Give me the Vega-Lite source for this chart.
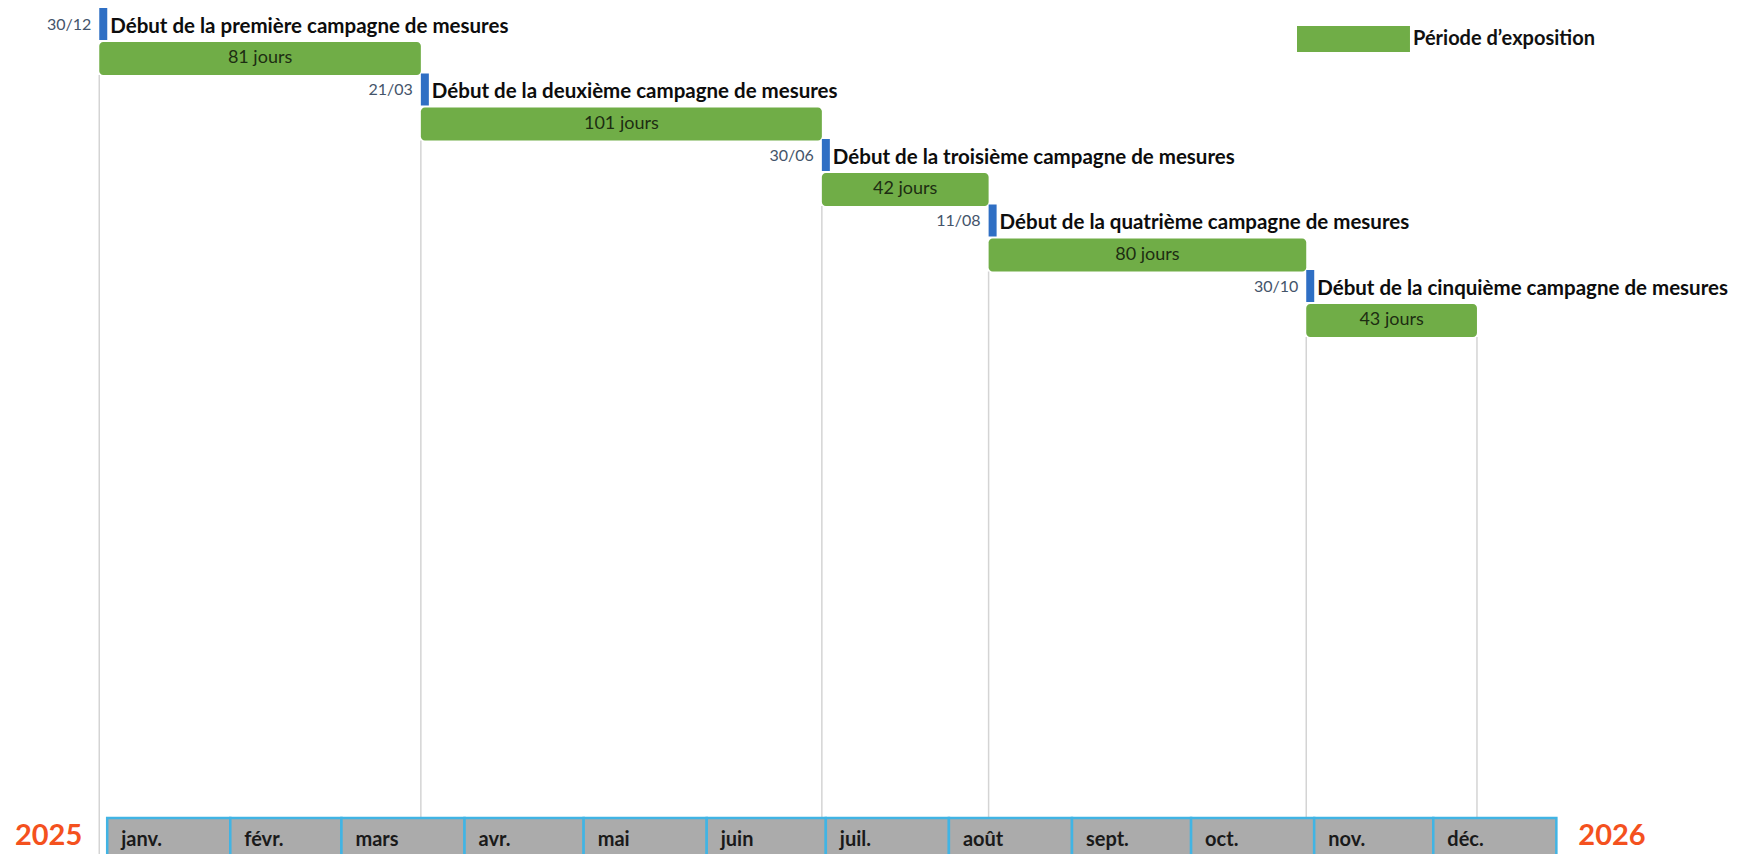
{
  "$schema": "https://vega.github.io/schema/vega-lite/v6.json",
  "width": 1739,
  "height": 854,
  "autosize": {"type": "none"},
  "padding": 0,
  "background": "white",
  "config": {"view": {"stroke": null}, "font": "Lato"},
  "datasets": {
    "campagnes": [
      {"rang": 1, "debut": "2024-12-30", "fin": "2025-03-21", "duree": "81 jours", "date": "30/12", "titre": "Début de la première campagne de mesures"},
      {"rang": 2, "debut": "2025-03-21", "fin": "2025-06-30", "duree": "101 jours", "date": "21/03", "titre": "Début de la deuxième campagne de mesures"},
      {"rang": 3, "debut": "2025-06-30", "fin": "2025-08-11", "duree": "42 jours", "date": "30/06", "titre": "Début de la troisième campagne de mesures"},
      {"rang": 4, "debut": "2025-08-11", "fin": "2025-10-30", "duree": "80 jours", "date": "11/08", "titre": "Début de la quatrième campagne de mesures"},
      {"rang": 5, "debut": "2025-10-30", "fin": "2025-12-12", "duree": "43 jours", "date": "30/10", "titre": "Début de la cinquième campagne de mesures"}
    ],
    "mois": [
      {"mois": "janv.", "debut": "2025-01-01", "fin": "2025-02-01"},
      {"mois": "févr.", "debut": "2025-02-01", "fin": "2025-03-01"},
      {"mois": "mars", "debut": "2025-03-01", "fin": "2025-04-01"},
      {"mois": "avr.", "debut": "2025-04-01", "fin": "2025-05-01"},
      {"mois": "mai", "debut": "2025-05-01", "fin": "2025-06-01"},
      {"mois": "juin", "debut": "2025-06-01", "fin": "2025-07-01"},
      {"mois": "juil.", "debut": "2025-07-01", "fin": "2025-08-01"},
      {"mois": "août", "debut": "2025-08-01", "fin": "2025-09-01"},
      {"mois": "sept.", "debut": "2025-09-01", "fin": "2025-10-01"},
      {"mois": "oct.", "debut": "2025-10-01", "fin": "2025-11-01"},
      {"mois": "nov.", "debut": "2025-11-01", "fin": "2025-12-01"},
      {"mois": "déc.", "debut": "2025-12-01", "fin": "2026-01-01"}
    ],
    "annees": [
      {"annee": "2025", "jour": "2025-01-01"},
      {"annee": "2026", "jour": "2026-01-01"}
    ]
  },
  "layer": [
    {
      "data": {"name": "campagnes"},
      "mark": {"type": "rule", "color": "#d4d4d4", "strokeWidth": 1.5, "yOffset": 51},
      "encoding": {
        "x": {"field": "debut", "type": "temporal", "axis": null,
              "scale": {"type": "utc", "domain": [{"year": 2024, "month": 12, "date": 5, "utc": true}, {"year": 2026, "month": 2, "date": 16, "utc": true}]}},
        "y": {"field": "rang", "type": "quantitative", "axis": null,
              "scale": {"domain": [0.6336, 13.672], "reverse": true, "nice": false, "zero": false}},
        "y2": {"value": "height"}
      }
    },
    {
      "data": {"name": "campagnes"},
      "transform": [{"filter": "datum.rang == 5"}],
      "mark": {"type": "rule", "color": "#d4d4d4", "strokeWidth": 1.5, "yOffset": 51},
      "encoding": {
        "x": {"field": "fin", "type": "temporal", "axis": null,
              "scale": {"type": "utc", "domain": [{"year": 2024, "month": 12, "date": 5, "utc": true}, {"year": 2026, "month": 2, "date": 16, "utc": true}]}},
        "y": {"field": "rang", "type": "quantitative", "axis": null,
              "scale": {"domain": [0.6336, 13.672], "reverse": true, "nice": false, "zero": false}},
        "y2": {"value": "height"}
      }
    },
    {
      "data": {"name": "mois"},
      "mark": {"type": "rect", "fill": "#ababab", "stroke": "#41b4e4", "strokeWidth": 2.5},
      "encoding": {
        "x": {"field": "debut", "type": "temporal", "axis": null,
              "scale": {"type": "utc", "domain": [{"year": 2024, "month": 12, "date": 5, "utc": true}, {"year": 2026, "month": 2, "date": 16, "utc": true}]}},
        "x2": {"field": "fin"},
        "y": {"value": {"expr": "height - 36"}},
        "y2": {"value": {"expr": "height + 10"}}
      }
    },
    {
      "data": {"name": "mois"},
      "mark": {"type": "text", "align": "left", "baseline": "alphabetic", "dx": 14, "fontSize": 20, "fontWeight": "bold", "color": "#1a1a1a"},
      "encoding": {
        "x": {"field": "debut", "type": "temporal", "axis": null,
              "scale": {"type": "utc", "domain": [{"year": 2024, "month": 12, "date": 5, "utc": true}, {"year": 2026, "month": 2, "date": 16, "utc": true}]}},
        "y": {"value": {"expr": "height - 8"}},
        "text": {"field": "mois"}
      }
    },
    {
      "data": {"name": "campagnes"},
      "mark": {"type": "rect", "cornerRadius": 4, "yOffset": 18, "y2Offset": 51},
      "encoding": {
        "x": {"field": "debut", "type": "temporal", "axis": null,
              "scale": {"type": "utc", "domain": [{"year": 2024, "month": 12, "date": 5, "utc": true}, {"year": 2026, "month": 2, "date": 16, "utc": true}]}},
        "x2": {"field": "fin"},
        "y": {"field": "rang", "type": "quantitative", "axis": null,
              "scale": {"domain": [0.6336, 13.672], "reverse": true, "nice": false, "zero": false}},
        "y2": {"field": "rang"},
        "color": {"datum": "Période d’exposition", "type": "nominal",
                  "scale": {"range": ["#70ad47"]},
                  "legend": {"orient": "none", "legendX": 1297, "legendY": 26, "title": null, "padding": 0,
                             "symbolType": "M-1,-1H7.69V1H-1Z", "symbolSize": 676, "symbolStrokeWidth": 0,
                             "symbolOpacity": 1, "labelOffset": 90, "labelFont": "Lato", "labelFontWeight": "bold",
                             "labelFontSize": 20, "labelColor": "#111111", "labelLimit": 400}}
      }
    },
    {
      "data": {"name": "campagnes", "format": {"parse": {"debut": "date", "fin": "date"}}},
      "transform": [
        {"fold": ["debut", "fin"], "as": ["borne", "jour"]},
        {"aggregate": [{"op": "mean", "field": "jour", "as": "milieu"}], "groupby": ["rang", "duree"]}
      ],
      "mark": {"type": "text", "baseline": "middle", "align": "center", "dy": 34.5, "fontSize": 18, "color": "#1d2d12"},
      "encoding": {
        "x": {"field": "milieu", "type": "temporal", "axis": null,
              "scale": {"type": "utc", "domain": [{"year": 2024, "month": 12, "date": 5, "utc": true}, {"year": 2026, "month": 2, "date": 16, "utc": true}]}},
        "y": {"field": "rang", "type": "quantitative", "axis": null,
              "scale": {"domain": [0.6336, 13.672], "reverse": true, "nice": false, "zero": false}},
        "text": {"field": "duree"}
      }
    },
    {
      "data": {"name": "campagnes"},
      "mark": {"type": "tick", "orient": "vertical", "thickness": 8, "size": 32, "xOffset": 4, "color": "#2f6fc4", "opacity": 1},
      "encoding": {
        "x": {"field": "debut", "type": "temporal", "axis": null,
              "scale": {"type": "utc", "domain": [{"year": 2024, "month": 12, "date": 5, "utc": true}, {"year": 2026, "month": 2, "date": 16, "utc": true}]}},
        "y": {"field": "rang", "type": "quantitative", "axis": null,
              "scale": {"domain": [0.6336, 13.672], "reverse": true, "nice": false, "zero": false}}
      }
    },
    {
      "data": {"name": "campagnes"},
      "mark": {"type": "text", "align": "right", "baseline": "middle", "dx": -8, "dy": 1, "fontSize": 16, "color": "#44546a"},
      "encoding": {
        "x": {"field": "debut", "type": "temporal", "axis": null,
              "scale": {"type": "utc", "domain": [{"year": 2024, "month": 12, "date": 5, "utc": true}, {"year": 2026, "month": 2, "date": 16, "utc": true}]}},
        "y": {"field": "rang", "type": "quantitative", "axis": null,
              "scale": {"domain": [0.6336, 13.672], "reverse": true, "nice": false, "zero": false}},
        "text": {"field": "date"}
      }
    },
    {
      "data": {"name": "campagnes"},
      "mark": {"type": "text", "align": "left", "baseline": "middle", "dx": 11, "dy": 3, "fontSize": 20.5, "fontWeight": "bold", "color": "#0d0d0d"},
      "encoding": {
        "x": {"field": "debut", "type": "temporal", "axis": null,
              "scale": {"type": "utc", "domain": [{"year": 2024, "month": 12, "date": 5, "utc": true}, {"year": 2026, "month": 2, "date": 16, "utc": true}]}},
        "y": {"field": "rang", "type": "quantitative", "axis": null,
              "scale": {"domain": [0.6336, 13.672], "reverse": true, "nice": false, "zero": false}},
        "text": {"field": "titre"}
      }
    },
    {
      "data": {"name": "annees"},
      "transform": [{"filter": "datum.annee == '2025'"}],
      "mark": {"type": "text", "align": "right", "baseline": "alphabetic", "dx": -25, "fontSize": 29, "fontWeight": "bold", "color": "#f4511e"},
      "encoding": {
        "x": {"field": "jour", "type": "temporal", "axis": null,
              "scale": {"type": "utc", "domain": [{"year": 2024, "month": 12, "date": 5, "utc": true}, {"year": 2026, "month": 2, "date": 16, "utc": true}]}},
        "y": {"value": {"expr": "height - 9"}},
        "text": {"field": "annee"}
      }
    },
    {
      "data": {"name": "annees"},
      "transform": [{"filter": "datum.annee == '2026'"}],
      "mark": {"type": "text", "align": "left", "baseline": "alphabetic", "dx": 22, "fontSize": 29, "fontWeight": "bold", "color": "#f4511e"},
      "encoding": {
        "x": {"field": "jour", "type": "temporal", "axis": null,
              "scale": {"type": "utc", "domain": [{"year": 2024, "month": 12, "date": 5, "utc": true}, {"year": 2026, "month": 2, "date": 16, "utc": true}]}},
        "y": {"value": {"expr": "height - 9"}},
        "text": {"field": "annee"}
      }
    }
  ]
}
